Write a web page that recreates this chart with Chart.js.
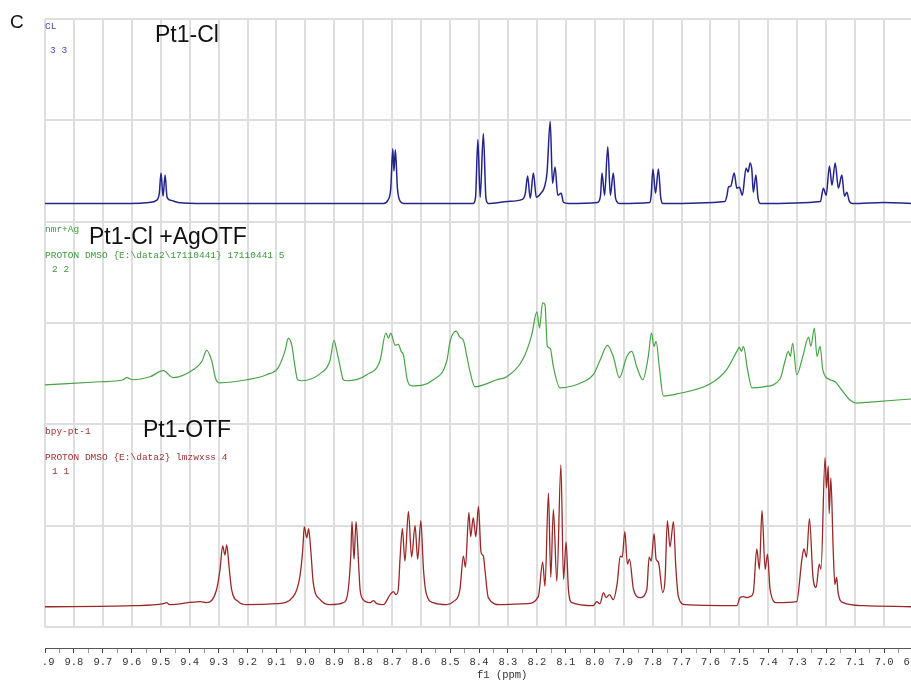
<!DOCTYPE html>
<html>
<head>
<meta charset="utf-8">
<script src="https://cdn.jsdelivr.net/npm/chart.js@4"></script>
<style>
  body { margin: 0; background: #fff; }
  canvas { display: block; }
</style>
</head>
<body>
<canvas id="nmr" width="911" height="681"></canvas>
<script>
// ppm axis ticks (reversed axis, 9.9 on the left)
const ppmTicks = [9.9, 9.8, 9.7, 9.6, 9.5, 9.4, 9.3, 9.2, 9.1, 9.0, 8.9, 8.8, 8.7, 8.6, 8.5, 8.4,
  8.3, 8.2, 8.1, 8.0, 7.9, 7.8, 7.7, 7.6, 7.5, 7.4, 7.3, 7.2, 7.1, 7.0, 6.9];
const tickLabels = [' .9', '9.8', '9.7', '9.6', '9.5', '9.4', '9.3', '9.2', '9.1', '9.0', '8.9', '8.8',
  '8.7', '8.6', '8.5', '8.4', '8.3', '8.2', '8.1', '8.0', '7.9', '7.8', '7.7', '7.6', '7.5', '7.4',
  '7.3', '7.2', '7.1', '7.0', '6.9'];

// traces: [ppm, intensity above the trace's own baseline]
const pt1Cl = [
  [9.9, 0], [9.6, 0], [9.54, 1], [9.515, 3], [9.505, 10], [9.499, 30], [9.492, 7], [9.485, 28],
  [9.478, 6], [9.465, 3], [9.44, 1], [9.35, 0],
  [8.73, 0], [8.715, 3], [8.705, 15], [8.698, 54], [8.694, 32], [8.689, 53], [8.682, 15], [8.672, 2], [8.66, 0],
  [8.42, 0], [8.412, 6], [8.404, 63], [8.396, 6], [8.385, 69], [8.376, 5], [8.368, 0],
  [8.30, 2], [8.25, 4], [8.24, 10], [8.232, 27], [8.223, 5], [8.212, 30], [8.202, 6], [8.186, 10],
  [8.174, 16], [8.165, 30], [8.154, 81], [8.146, 20], [8.137, 36], [8.128, 8], [8.116, 10], [8.108, 1], [8.09, 0],
  [7.99, 1], [7.98, 8], [7.975, 30], [7.966, 8], [7.955, 56], [7.946, 8], [7.936, 30], [7.928, 5], [7.915, 0],
  [7.81, 1], [7.805, 8], [7.799, 34], [7.79, 10], [7.78, 34], [7.772, 6], [7.765, 0],
  [7.55, 2], [7.543, 8], [7.538, 16], [7.530, 17], [7.518, 30], [7.509, 15], [7.500, 16], [7.490, 8],
  [7.477, 35], [7.470, 31], [7.463, 40], [7.457, 33], [7.452, 11], [7.443, 28], [7.436, 6], [7.428, 0],
  [7.22, 2], [7.21, 15], [7.200, 8], [7.189, 37], [7.180, 18], [7.169, 40], [7.158, 15], [7.146, 28],
  [7.137, 7], [7.129, 11], [7.12, 2], [7.11, 0], [7.0, 1], [6.907, 0]
];

const pt1ClAg = [
  [9.9, 19], [9.71, 22], [9.63, 24], [9.618, 26], [9.596, 24], [9.537, 27], [9.491, 33], [9.457, 26],
  [9.387, 34], [9.358, 42], [9.341, 53], [9.324, 43], [9.309, 24], [9.295, 21], [9.203, 24], [9.134, 29],
  [9.094, 36], [9.070, 53], [9.059, 65], [9.047, 58], [9.036, 37], [9.027, 24], [9.013, 23],
  [8.949, 30], [8.915, 43], [8.901, 63], [8.892, 53], [8.880, 37], [8.869, 24], [8.857, 23],
  [8.788, 29], [8.742, 43], [8.722, 70], [8.713, 65], [8.705, 70], [8.690, 58], [8.679, 59], [8.669, 52],
  [8.661, 48], [8.648, 24], [8.632, 18], [8.558, 24], [8.511, 43], [8.500, 62], [8.479, 72], [8.466, 66],
  [8.454, 63], [8.442, 47], [8.431, 32], [8.414, 17], [8.385, 19], [8.339, 24], [8.304, 27],
  [8.247, 45], [8.218, 68], [8.200, 91], [8.191, 75], [8.180, 100], [8.172, 98], [8.164, 57], [8.154, 55],
  [8.143, 37], [8.120, 16], [8.039, 22], [8.005, 29], [7.982, 43], [7.956, 58], [7.936, 47], [7.915, 26],
  [7.889, 47], [7.872, 52], [7.855, 37], [7.834, 24], [7.815, 47], [7.804, 70], [7.795, 57], [7.788, 62],
  [7.777, 37], [7.763, 8], [7.716, 10], [7.601, 20], [7.544, 34], [7.507, 53], [7.500, 56], [7.493, 52],
  [7.486, 57], [7.472, 34], [7.457, 16], [7.417, 17], [7.359, 25], [7.342, 43], [7.331, 52], [7.324, 47],
  [7.316, 60], [7.302, 29], [7.281, 47], [7.261, 66], [7.253, 57], [7.241, 75], [7.232, 47], [7.221, 57],
  [7.212, 34], [7.187, 24], [7.169, 22], [7.152, 16], [7.118, 4], [7.094, 1], [7.048, 2], [6.907, 5]
];

const pt1Otf = [
  [9.9, -2], [9.6, -1], [9.49, 1], [9.479, 2], [9.47, 0], [9.364, 3], [9.341, 2], [9.307, 15], [9.295, 35],
  [9.286, 58], [9.278, 49], [9.272, 59], [9.263, 35], [9.255, 15], [9.232, 3], [9.203, 0],
  [9.099, 1], [9.042, 8], [9.019, 28], [9.009, 55], [9.004, 77], [8.995, 66], [8.989, 75], [8.981, 52],
  [8.973, 22], [8.949, 5], [8.915, 0], [8.869, 2], [8.852, 15], [8.843, 50], [8.839, 82], [8.832, 45],
  [8.825, 82], [8.817, 45], [8.811, 15], [8.800, 5], [8.777, 2], [8.765, 4], [8.753, 1], [8.731, 0],
  [8.707, 10], [8.696, 13], [8.687, 10], [8.679, 15], [8.673, 45], [8.665, 75], [8.656, 43], [8.644, 92],
  [8.633, 47], [8.621, 78], [8.612, 45], [8.601, 83], [8.592, 35], [8.583, 12], [8.558, 2], [8.511, 0],
  [8.489, 3], [8.466, 15], [8.454, 48], [8.447, 37], [8.435, 91], [8.429, 67], [8.420, 86], [8.411, 67],
  [8.402, 97], [8.393, 52], [8.385, 48], [8.379, 33], [8.368, 7], [8.327, 0], [8.235, 1], [8.195, 8],
  [8.180, 42], [8.172, 18], [8.160, 110], [8.152, 27], [8.143, 94], [8.131, 23], [8.117, 138], [8.108, 25],
  [8.099, 62], [8.091, 15], [8.079, 2], [8.005, -1], [7.993, 3], [7.982, 1], [7.970, 12], [7.961, 7],
  [7.949, 10], [7.936, 5], [7.922, 22], [7.912, 48], [7.905, 47], [7.896, 72], [7.887, 40], [7.880, 45],
  [7.866, 15], [7.843, 7], [7.820, 15], [7.812, 47], [7.805, 43], [7.795, 70], [7.788, 45], [7.780, 42],
  [7.765, 12], [7.757, 25], [7.749, 83], [7.740, 57], [7.728, 82], [7.720, 38], [7.711, 8], [7.688, 0],
  [7.509, -1], [7.498, 7], [7.486, 8], [7.475, 7], [7.463, 8], [7.452, 12], [7.440, 55], [7.431, 35],
  [7.422, 93], [7.411, 35], [7.403, 50], [7.394, 15], [7.371, 2], [7.302, 3], [7.284, 45], [7.277, 55],
  [7.268, 47], [7.258, 85], [7.246, 28], [7.235, 17], [7.224, 40], [7.218, 35], [7.204, 145], [7.199, 115],
  [7.193, 137], [7.190, 90], [7.184, 125], [7.176, 55], [7.170, 20], [7.164, 27], [7.159, 12], [7.141, 2],
  [7.071, -1], [6.907, -2]
];

const traceOffsets = [418, 220, 22];

function toPoints(arr, offset) {
  return arr.map(p => ({ x: p[0], y: p[1] + offset }));
}

const textPlugin = {
  id: 'labels',
  afterDraw(chart) {
    const ctx = chart.ctx;
    ctx.save();
    ctx.textBaseline = 'alphabetic';
    ctx.textAlign = 'left';
    ctx.fillStyle = '#111';
    ctx.font = '19px "Liberation Sans", Arial, sans-serif';
    ctx.fillText('C', 10, 28);
    ctx.font = '23px "Liberation Sans", Arial, sans-serif';
    ctx.fillText('Pt1-Cl', 155, 42);
    ctx.fillText('Pt1-Cl +AgOTF', 89, 244);
    ctx.fillText('Pt1-OTF', 143, 437);

    ctx.font = '9.5px "Liberation Mono", monospace';
    ctx.fillStyle = '#4545b5';
    ctx.fillText('CL', 45, 29);
    ctx.fillText('3 3', 50, 53);
    ctx.fillStyle = '#3e9a3e';
    ctx.fillText('nmr+Ag', 45, 232);
    ctx.fillText('PROTON DMSO {E:\\data2\\17110441} 17110441 5', 45, 258);
    ctx.fillText('2 2', 52, 272);
    ctx.fillStyle = '#a03232';
    ctx.fillText('bpy-pt-1', 45, 434);
    ctx.fillText('PROTON DMSO {E:\\data2} lmzwxss 4', 45, 460);
    ctx.fillText('1 1', 52, 474);

    ctx.fillStyle = '#333';
    ctx.font = '10.5px "Liberation Mono", monospace';
    ctx.fillText('f1 (ppm)', 477, 678);
    ctx.restore();
  }
};

const gridColor = '#dedede';

new Chart(document.getElementById('nmr').getContext('2d'), {
  type: 'line',
  data: {
    datasets: [
      { label: 'Pt1-Cl', data: toPoints(pt1Cl, traceOffsets[0]), borderColor: '#24248c', borderWidth: 1.5 },
      { label: 'Pt1-Cl +AgOTF', data: toPoints(pt1ClAg, traceOffsets[1]), borderColor: '#47a347', borderWidth: 1.2 },
      { label: 'Pt1-OTF', data: toPoints(pt1Otf, traceOffsets[2]), borderColor: '#982828', borderWidth: 1.3 }
    ]
  },
  options: {
    responsive: false,
    animation: false,
    parsing: true,
    layout: { padding: { left: 45, top: 19, right: 0, bottom: 0 } },
    elements: {
      point: { radius: 0 },
      line: { cubicInterpolationMode: 'monotone', fill: false }
    },
    plugins: { legend: { display: false }, tooltip: { enabled: false } },
    scales: {
      x: {
        type: 'linear',
        position: 'bottom',
        reverse: true,
        min: 6.907,
        max: 9.9,
        weight: 0,
        afterBuildTicks: s => { s.ticks = ppmTicks.map(v => ({ value: v })); },
        afterFit: s => { s.height = 21; s.paddingLeft = 0; s.paddingRight = 0; },
        ticks: { display: false },
        border: { display: false },
        grid: { color: gridColor, lineWidth: 2, drawTicks: false }
      },
      x2: {
        type: 'linear',
        position: 'bottom',
        reverse: true,
        min: 6.907,
        max: 9.9,
        weight: 1,
        afterBuildTicks: s => {
          const t = [];
          ppmTicks.forEach((v, i) => {
            t.push({ value: v });
            if (i < ppmTicks.length - 1) t.push({ value: Math.round((v - 0.05) * 100) / 100 });
          });
          s.ticks = t;
        },
        afterFit: s => { s.height = 33; s.paddingLeft = 0; s.paddingRight = 0; },
        ticks: {
          autoSkip: false,
          maxRotation: 0,
          minRotation: 0,
          padding: 3,
          color: '#333',
          font: { family: '"Liberation Mono", monospace', size: 10.5 },
          callback: v => {
            const i = ppmTicks.findIndex(t => Math.abs(t - v) < 1e-6);
            return i >= 0 ? tickLabels[i] : '';
          }
        },
        border: { display: true, color: '#555', width: 1 },
        grid: {
          drawOnChartArea: false,
          tickLength: 5,
          tickColor: c => (ppmTicks.some(t => Math.abs(t - c.tick.value) < 1e-6) ? '#444' : '#999')
        }
      },
      y: {
        min: 0,
        max: 600,
        afterFit: s => { s.width = 0; },
        ticks: { display: false, stepSize: 100 },
        border: { display: false },
        grid: { color: gridColor, lineWidth: 2, drawTicks: false }
      }
    }
  },
  plugins: [textPlugin]
});
</script>
</body>
</html>
